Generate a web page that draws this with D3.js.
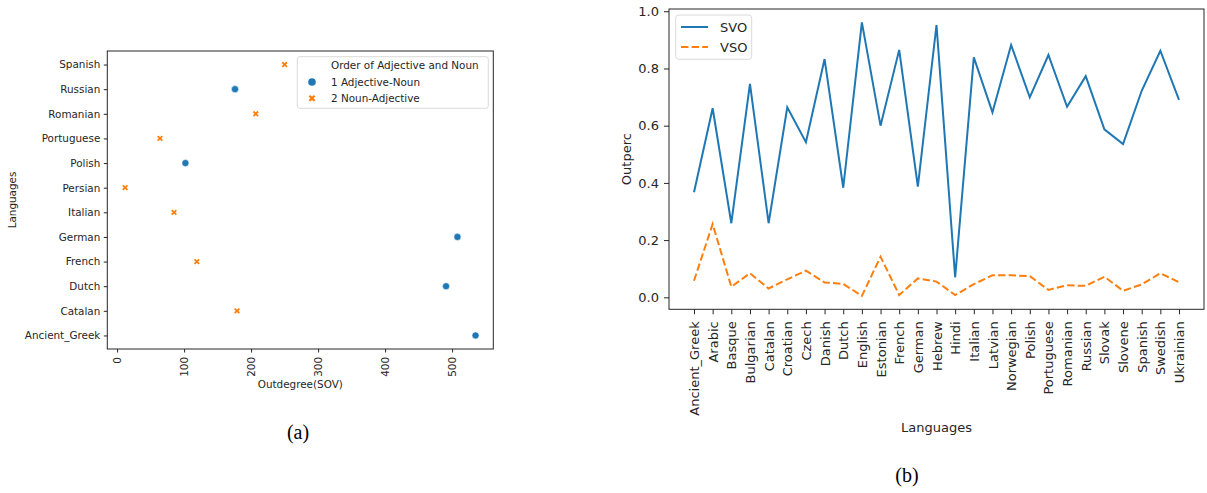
<!DOCTYPE html>
<html>
<head>
<meta charset="utf-8">
<script src="https://cdn.jsdelivr.net/npm/d3@7"></script>
<style>
  body { margin: 0; background: #fff; }
  svg { font-family: "DejaVu Sans", sans-serif; }
  .cap { font-family: "Liberation Serif", "DejaVu Serif", serif; }
</style>
</head>
<body>
<div id="chart"></div>
<script>
// (a) scatter: outdegree per language, coloured by adjective/noun order
const scatterLangs = ["Spanish", "Russian", "Romanian", "Portuguese", "Polish", "Persian",
  "Italian", "German", "French", "Dutch", "Catalan", "Ancient_Greek"];
const scatterOutdeg = [250, 176, 207, 64, 102, 12, 85, 508, 119, 491, 179, 535];
const scatterOrder = [2, 1, 2, 2, 1, 2, 2, 1, 2, 1, 2, 1];
const orderLabels = ["1 Adjective-Noun", "2 Noun-Adjective"];
const outdegTicks = [0, 100, 200, 300, 400, 500];

// (b) line chart: share of SVO / VSO per language
const lineLangs = ["Ancient_Greek", "Arabic", "Basque", "Bulgarian", "Catalan", "Croatian",
  "Czech", "Danish", "Dutch", "English", "Estonian", "French", "German", "Hebrew", "Hindi",
  "Italian", "Latvian", "Norwegian", "Polish", "Portuguese", "Romanian", "Russian", "Slovak",
  "Slovene", "Spanish", "Swedish", "Ukrainian"];
const svo = [0.367, 0.661, 0.259, 0.746, 0.259, 0.664, 0.542, 0.833, 0.383, 0.961, 0.600,
  0.865, 0.387, 0.952, 0.070, 0.839, 0.647, 0.882, 0.699, 0.847, 0.666, 0.773, 0.587,
  0.536, 0.722, 0.862, 0.690];
const vso = [0.058, 0.256, 0.037, 0.084, 0.031, 0.063, 0.093, 0.052, 0.047, 0.005, 0.142,
  0.008, 0.066, 0.055, 0.008, 0.046, 0.077, 0.077, 0.074, 0.026, 0.042, 0.040, 0.072,
  0.023, 0.045, 0.084, 0.053];
const outpercTicks = [0, 0.2, 0.4, 0.6, 0.8, 1.0];

const blue = "#1f77b4";
const orange = "#ff7f0e";
const spine = "#262626";
const font = "DejaVu Sans";
const fsA = 10.4;
const fsB = 13;

const svg = d3.select("#chart").append("svg")
  .attr("width", 1207)
  .attr("height", 493);

// ---------- (a) ----------
const a = { left: 107.3, top: 51, right: 493.3, bottom: 349 };

const xA = d3.scaleLinear()
  .domain([-14.6, 561.5])
  .range([a.left, a.right]);
const yA = d3.scalePoint()
  .domain(scatterLangs)
  .range([a.top, a.bottom])
  .padding(0.55);

const gA = svg.append("g");

const xAxisA = gA.append("g")
  .attr("transform", `translate(0,${a.bottom})`)
  .call(d3.axisBottom(xA).tickValues(outdegTicks).tickSize(3.5).tickPadding(3.5))
  .attr("font-family", font).attr("font-size", fsA);
xAxisA.select(".domain").remove();
xAxisA.selectAll("text")
  .attr("transform", "rotate(-90)")
  .attr("x", -8)
  .attr("y", 0)
  .attr("dy", "0.35em")
  .attr("text-anchor", "end")
  .attr("fill", spine);

const yAxisA = gA.append("g")
  .attr("transform", `translate(${a.left},0)`)
  .call(d3.axisLeft(yA).tickSize(3.5).tickPadding(3.5))
  .attr("font-family", font).attr("font-size", fsA);
yAxisA.select(".domain").remove();
yAxisA.selectAll("text").attr("fill", spine);
gA.selectAll(".tick line").attr("stroke", spine);

gA.append("rect")
  .attr("x", a.left).attr("y", a.top)
  .attr("width", a.right - a.left).attr("height", a.bottom - a.top)
  .attr("fill", "none").attr("stroke", spine).attr("stroke-width", 1);

const xMark = (s) => `M${-s},${-s}L${s},${s}M${-s},${s}L${s},${-s}`;

const pts = scatterLangs.map((l, i) => ({ lang: l, v: scatterOutdeg[i], o: scatterOrder[i] }));
gA.selectAll(".pt")
  .data(pts)
  .enter()
  .append("path")
  .attr("class", "pt")
  .attr("transform", (d) => `translate(${xA(d.v)},${yA(d.lang)})`)
  .attr("d", (d) => d.o === 1 ? d3.symbol(d3.symbolCircle, 40)() : xMark(2.3))
  .attr("fill", (d) => d.o === 1 ? blue : "none")
  .attr("stroke", (d) => d.o === 1 ? "#fff" : orange)
  .attr("stroke-width", (d) => d.o === 1 ? 0.6 : 1.8);

// legend (a)
const legA = gA.append("g");
legA.append("rect")
  .attr("x", 297.3).attr("y", 56.7).attr("width", 191).attr("height", 51.6)
  .attr("rx", 2.5)
  .attr("fill", "#fff").attr("fill-opacity", 0.8)
  .attr("stroke", "#d0d0d0").attr("stroke-width", 0.8);
legA.append("text")
  .attr("x", 331).attr("y", 69).attr("font-size", fsA).attr("fill", spine)
  .text("Order of Adjective and Noun");
orderLabels.forEach((lab, i) => {
  const yy = 82 + i * 16.3;
  legA.append("path")
    .attr("transform", `translate(312,${yy})`)
    .attr("d", i === 0 ? d3.symbol(d3.symbolCircle, 45)() : xMark(2.6))
    .attr("fill", i === 0 ? blue : "none")
    .attr("stroke", i === 0 ? "none" : orange)
    .attr("stroke-width", 2.2);
  legA.append("text")
    .attr("x", 331).attr("y", yy + 3.5).attr("font-size", fsA).attr("fill", spine)
    .text(lab);
});

gA.append("text")
  .attr("x", (a.left + a.right) / 2).attr("y", 388)
  .attr("text-anchor", "middle").attr("font-size", fsA).attr("fill", spine)
  .text("Outdegree(SOV)");
gA.append("text")
  .attr("transform", `translate(16,${(a.top + a.bottom) / 2})rotate(-90)`)
  .attr("text-anchor", "middle").attr("font-size", fsA).attr("fill", spine)
  .text("Languages");
svg.append("text").attr("class", "cap")
  .attr("x", 298).attr("y", 439).attr("text-anchor", "middle").attr("font-size", 20)
  .text("(a)");

// ---------- (b) ----------
const b = { left: 669, top: 9, right: 1204, bottom: 309.3 };

const xB = d3.scalePoint()
  .domain(lineLangs)
  .range([b.left, b.right])
  .padding(1.34);
const yB = d3.scaleLinear()
  .domain([-0.0419, 1.0079])
  .range([b.bottom, b.top]);

const gB = svg.append("g");

const xAxisB = gB.append("g")
  .attr("transform", `translate(0,${b.bottom})`)
  .call(d3.axisBottom(xB).tickSize(5).tickPadding(5))
  .attr("font-family", font).attr("font-size", fsB);
xAxisB.select(".domain").remove();
xAxisB.selectAll("text")
  .attr("transform", "rotate(-90)")
  .attr("x", -12)
  .attr("y", 0)
  .attr("dy", "0.35em")
  .attr("text-anchor", "end")
  .attr("fill", spine);

const yAxisB = gB.append("g")
  .attr("transform", `translate(${b.left},0)`)
  .call(d3.axisLeft(yB).tickValues(outpercTicks).tickFormat(d3.format(".1f")).tickSize(5).tickPadding(5))
  .attr("font-family", font).attr("font-size", fsB);
yAxisB.select(".domain").remove();
yAxisB.selectAll("text").attr("fill", spine);
gB.selectAll(".tick line").attr("stroke", spine);

gB.append("rect")
  .attr("x", b.left).attr("y", b.top)
  .attr("width", b.right - b.left).attr("height", b.bottom - b.top)
  .attr("fill", "none").attr("stroke", spine).attr("stroke-width", 1);

const line = d3.line()
  .x((d, i) => xB(lineLangs[i]))
  .y((d) => yB(d));

gB.append("path")
  .datum(svo)
  .attr("d", line)
  .attr("fill", "none")
  .attr("stroke", blue)
  .attr("stroke-width", 2);
gB.append("path")
  .datum(vso)
  .attr("d", line)
  .attr("fill", "none")
  .attr("stroke", orange)
  .attr("stroke-width", 2)
  .attr("stroke-dasharray", "7.4,3.2");

// legend (b)
const legB = gB.append("g");
legB.append("rect")
  .attr("x", 675.7).attr("y", 15).attr("width", 76).attr("height", 44.3)
  .attr("rx", 3)
  .attr("fill", "#fff").attr("fill-opacity", 0.8)
  .attr("stroke", "#d0d0d0").attr("stroke-width", 0.8);
[["SVO", blue, null], ["VSO", orange, "7.4,3.2"]].forEach(([lab, col, dash], i) => {
  const yy = 27 + i * 20;
  legB.append("line")
    .attr("x1", 681).attr("x2", 708).attr("y1", yy).attr("y2", yy)
    .attr("stroke", col).attr("stroke-width", 2)
    .attr("stroke-dasharray", dash);
  legB.append("text")
    .attr("x", 720).attr("y", yy + 4.5).attr("font-size", fsB).attr("fill", spine)
    .text(lab);
});

gB.append("text")
  .attr("x", (b.left + b.right) / 2).attr("y", 432)
  .attr("text-anchor", "middle").attr("font-size", fsB).attr("fill", spine)
  .text("Languages");
gB.append("text")
  .attr("transform", `translate(631,${(b.top + b.bottom) / 2})rotate(-90)`)
  .attr("text-anchor", "middle").attr("font-size", fsB).attr("fill", spine)
  .text("Outperc");
svg.append("text").attr("class", "cap")
  .attr("x", 907).attr("y", 482).attr("text-anchor", "middle").attr("font-size", 20)
  .text("(b)");
</script>
</body>
</html>
